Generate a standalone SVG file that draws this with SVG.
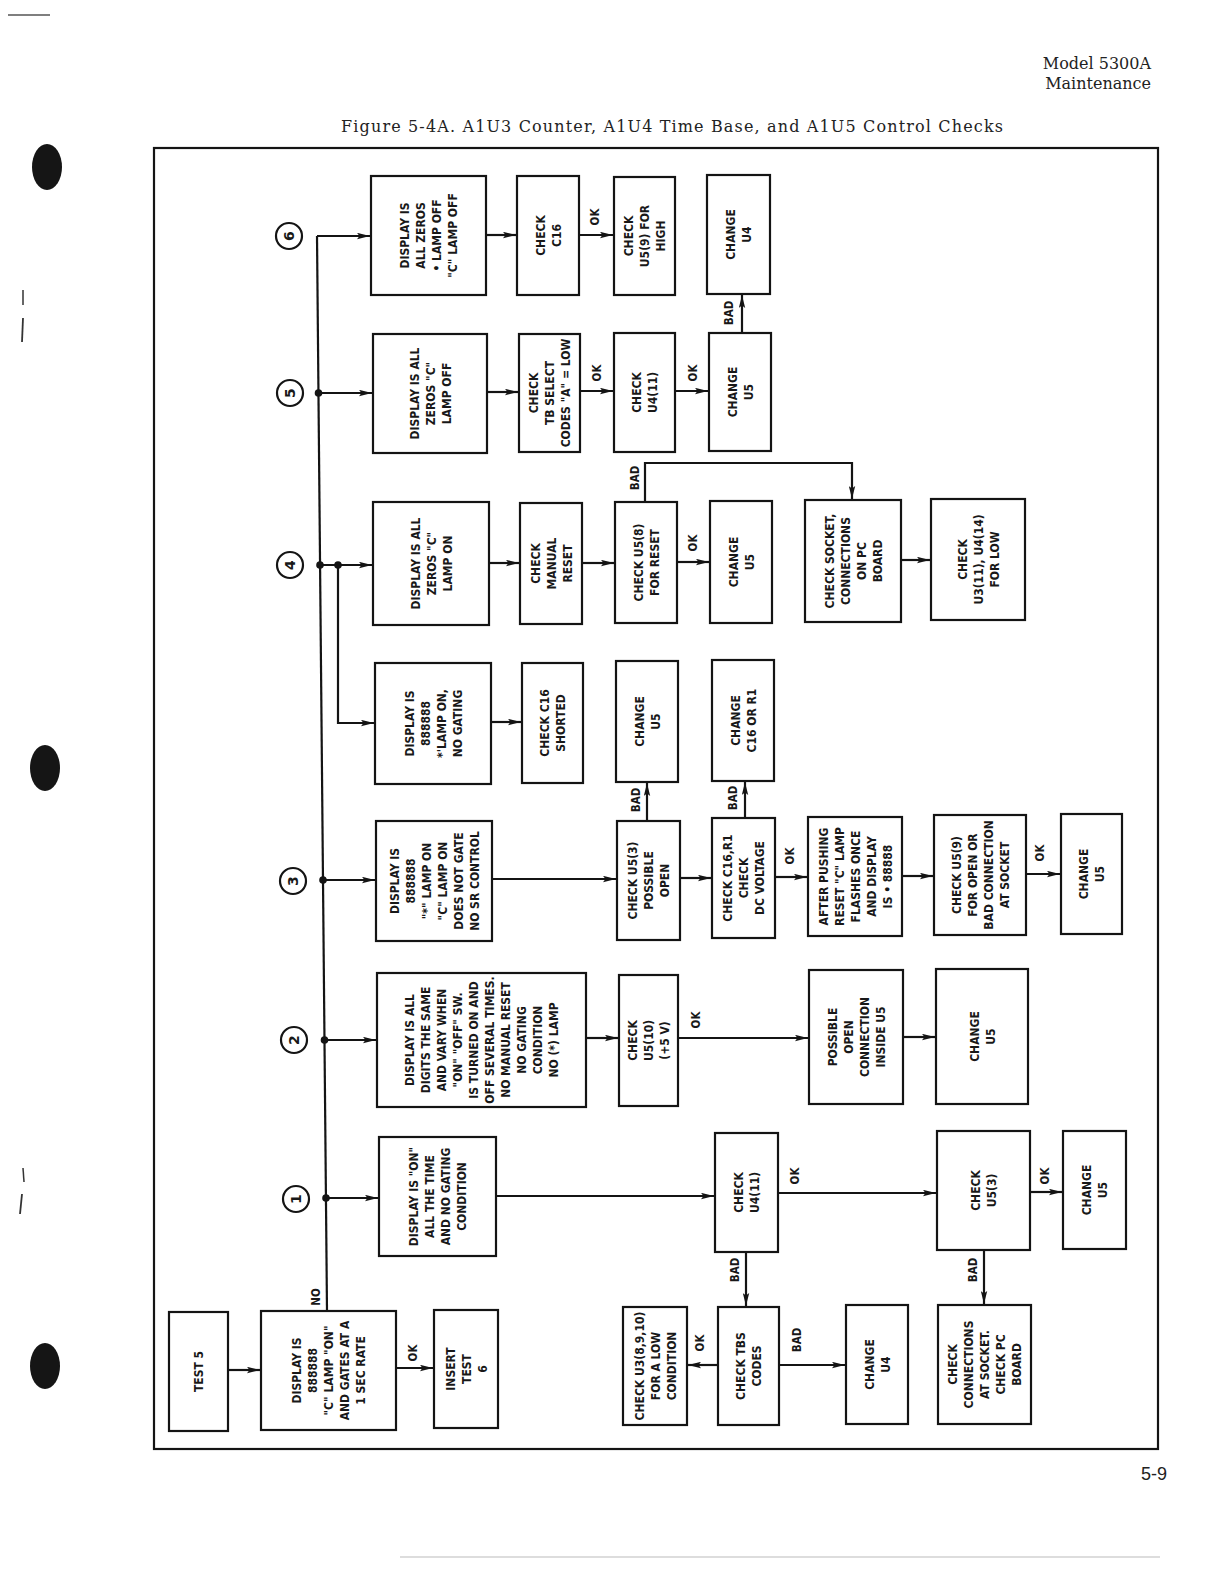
<svg xmlns="http://www.w3.org/2000/svg" width="1229" height="1584" viewBox="0 0 1229 1584">
<style>
.bx{fill:#fff;stroke:#141414;stroke-width:2.2}
.t{font-family:"Liberation Sans Narrow","DejaVu Sans Condensed","Liberation Sans",sans-serif;font-stretch:condensed;font-weight:bold;font-size:12px;text-anchor:middle;fill:#181818}
.l{font-family:"Liberation Sans Narrow","DejaVu Sans Condensed","Liberation Sans",sans-serif;font-stretch:condensed;font-weight:bold;font-size:11.5px;text-anchor:middle;fill:#181818}
.h{font-family:"DejaVu Serif","Liberation Serif",serif;font-size:16px;fill:#222}
.c{fill:#fff;stroke:#141414;stroke-width:2.2}
.cn{font-family:"DejaVu Sans","Liberation Sans",sans-serif;font-size:14px;font-weight:bold;text-anchor:middle;fill:#181818}
.w{fill:none;stroke:#141414;stroke-width:2.2}
.d{fill:#141414}
</style>
<defs>
<marker id="a" viewBox="0 0 13 7" refX="13" refY="3.5" markerWidth="13" markerHeight="7" markerUnits="userSpaceOnUse" orient="auto"><path d="M0,0.3 L13,3.5 L0,6.7 L2.5,3.5 z" fill="#141414"/></marker>
</defs>
<rect width="1229" height="1584" fill="#fff"/>
<g id="margin">
<line x1="8" y1="15" x2="50" y2="15" stroke="#555" stroke-width="1.5"/>
<ellipse cx="47" cy="167" rx="15" ry="23" fill="#151515"/>
<ellipse cx="45" cy="768" rx="15" ry="23" fill="#151515"/>
<ellipse cx="45" cy="1366" rx="15" ry="23" fill="#151515"/>
<line x1="23" y1="290" x2="23" y2="305" stroke="#333" stroke-width="1.5"/>
<line x1="23" y1="318" x2="22" y2="342" stroke="#333" stroke-width="1.8"/>
<line x1="23" y1="1168" x2="24" y2="1182" stroke="#333" stroke-width="1.5"/>
<line x1="22" y1="1194" x2="20" y2="1214" stroke="#333" stroke-width="1.8"/>
<line x1="400" y1="1557" x2="1160" y2="1557" stroke="#bbb" stroke-width="1"/>
</g>
<g id="header">
<text class="h" x="1151" y="69" text-anchor="end">Model 5300A</text>
<text class="h" x="1151" y="89" text-anchor="end">Maintenance</text>
<text class="h" x="341" y="132" font-size="16.5" textLength="662" lengthAdjust="spacing">Figure 5-4A.  A1U3 Counter, A1U4 Time Base, and A1U5 Control Checks</text>
<text x="1167" y="1480" text-anchor="end" font-family="Liberation Sans, sans-serif" font-size="18" fill="#222">5-9</text>
</g>
<rect x="154" y="148" width="1004" height="1301" fill="none" stroke="#141414" stroke-width="2.2"/>

<g id="connectors">
<path class="w" d="M317,236 H370" marker-end="url(#a)"/>
<path class="w" d="M317,236 L327,1311"/>
<path class="w" d="M318.5,393 H372" marker-end="url(#a)"/>
<path class="w" d="M320,565 H372" marker-end="url(#a)"/>
<path class="w" d="M338,565 V723 H374" marker-end="url(#a)"/>
<path class="w" d="M323,880 H375" marker-end="url(#a)"/>
<path class="w" d="M324.5,1040 H376" marker-end="url(#a)"/>
<path class="w" d="M326,1198 H378" marker-end="url(#a)"/>
<path class="w" d="M486,235 H516" marker-end="url(#a)"/>
<path class="w" d="M579,235 H613" marker-end="url(#a)"/>
<path class="w" d="M487,392 H518" marker-end="url(#a)"/>
<path class="w" d="M580,391 H613" marker-end="url(#a)"/>
<path class="w" d="M675,391 H708" marker-end="url(#a)"/>
<path class="w" d="M742,333 V295" marker-end="url(#a)"/>
<path class="w" d="M489,563 H519" marker-end="url(#a)"/>
<path class="w" d="M582,563 H614" marker-end="url(#a)"/>
<path class="w" d="M677,562 H709" marker-end="url(#a)"/>
<path class="w" d="M645,502 V463 H852 V499" marker-end="url(#a)"/>
<path class="w" d="M901,560 H930" marker-end="url(#a)"/>
<path class="w" d="M491,722 H521" marker-end="url(#a)"/>
<path class="w" d="M492,879 H616" marker-end="url(#a)"/>
<path class="w" d="M680,878 H711" marker-end="url(#a)"/>
<path class="w" d="M775,877 H807" marker-end="url(#a)"/>
<path class="w" d="M902,876 H933" marker-end="url(#a)"/>
<path class="w" d="M1026,874 H1060" marker-end="url(#a)"/>
<path class="w" d="M647,821 V783" marker-end="url(#a)"/>
<path class="w" d="M745,818 V782" marker-end="url(#a)"/>
<path class="w" d="M586,1038 H618" marker-end="url(#a)"/>
<path class="w" d="M678,1038 H808" marker-end="url(#a)"/>
<path class="w" d="M903,1037 H935" marker-end="url(#a)"/>
<path class="w" d="M496,1196 H714" marker-end="url(#a)"/>
<path class="w" d="M778,1193 H936" marker-end="url(#a)"/>
<path class="w" d="M1030,1192 H1062" marker-end="url(#a)"/>
<path class="w" d="M746,1252 V1306" marker-end="url(#a)"/>
<path class="w" d="M984,1250 V1304" marker-end="url(#a)"/>
<path class="w" d="M718,1365 H688" marker-end="url(#a)"/>
<path class="w" d="M779,1365 H845" marker-end="url(#a)"/>
<path class="w" d="M228,1370 H260" marker-end="url(#a)"/>
<path class="w" d="M396,1368 H433" marker-end="url(#a)"/>
<circle class="d" cx="318.5" cy="393" r="3.8"/>
<circle class="d" cx="320" cy="565" r="3.8"/>
<circle class="d" cx="338" cy="565" r="3.8"/>
<circle class="d" cx="323" cy="880" r="3.8"/>
<circle class="d" cx="324.5" cy="1040" r="3.8"/>
<circle class="d" cx="326" cy="1198" r="3.8"/>
<text class="l" transform="translate(595,217) rotate(-90)" y="4">OK</text>
<text class="l" transform="translate(597,373) rotate(-90)" y="4">OK</text>
<text class="l" transform="translate(693,373) rotate(-90)" y="4">OK</text>
<text class="l" transform="translate(729,313) rotate(-90)" y="4">BAD</text>
<text class="l" transform="translate(693,543) rotate(-90)" y="4">OK</text>
<text class="l" transform="translate(635,478) rotate(-90)" y="4">BAD</text>
<text class="l" transform="translate(790,856) rotate(-90)" y="4">OK</text>
<text class="l" transform="translate(1040,853) rotate(-90)" y="4">OK</text>
<text class="l" transform="translate(636,800) rotate(-90)" y="4">BAD</text>
<text class="l" transform="translate(733,798) rotate(-90)" y="4">BAD</text>
<text class="l" transform="translate(696,1020) rotate(-90)" y="4">OK</text>
<text class="l" transform="translate(795,1176) rotate(-90)" y="4">OK</text>
<text class="l" transform="translate(1045,1176) rotate(-90)" y="4">OK</text>
<text class="l" transform="translate(735,1270) rotate(-90)" y="4">BAD</text>
<text class="l" transform="translate(973,1270) rotate(-90)" y="4">BAD</text>
<text class="l" transform="translate(700,1343) rotate(-90)" y="4">OK</text>
<text class="l" transform="translate(797,1340) rotate(-90)" y="4">BAD</text>
<text class="l" transform="translate(413,1353) rotate(-90)" y="4">OK</text>
<text class="l" transform="translate(316,1297) rotate(-90)" y="4">NO</text>
</g>

<g id="m6"><circle class="c" cx="289" cy="236" r="13"/><text class="cn" transform="translate(289,236) rotate(-90)" y="5">6</text></g>
<g id="m5"><circle class="c" cx="290" cy="393" r="13"/><text class="cn" transform="translate(290,393) rotate(-90)" y="5">5</text></g>
<g id="m4"><circle class="c" cx="290" cy="565" r="13"/><text class="cn" transform="translate(290,565) rotate(-90)" y="5">4</text></g>
<g id="m3"><circle class="c" cx="293" cy="881" r="13"/><text class="cn" transform="translate(293,881) rotate(-90)" y="5">3</text></g>
<g id="m2"><circle class="c" cx="294" cy="1040" r="13"/><text class="cn" transform="translate(294,1040) rotate(-90)" y="5">2</text></g>
<g id="m1"><circle class="c" cx="296" cy="1199" r="13"/><text class="cn" transform="translate(296,1199) rotate(-90)" y="5">1</text></g>

<g id="n6"><rect class="bx" x="371" y="176" width="115" height="119"/><text class="t" transform="translate(428.5,235.5) rotate(-90)"><tspan x="0" y="-19.5">DISPLAY IS</tspan><tspan x="0" dy="16">ALL ZEROS</tspan><tspan x="0" dy="16">• LAMP OFF</tspan><tspan x="0" dy="16">"C" LAMP OFF</tspan></text></g>
<g id="c16"><rect class="bx" x="517" y="176" width="62" height="119"/><text class="t" transform="translate(548,235.5) rotate(-90)"><tspan x="0" y="-3.5">CHECK</tspan><tspan x="0" dy="16">C16</tspan></text></g>
<g id="u59h"><rect class="bx" x="614" y="177" width="61" height="118"/><text class="t" transform="translate(644.5,236) rotate(-90)"><tspan x="0" y="-11.5">CHECK</tspan><tspan x="0" dy="16">U5(9) FOR</tspan><tspan x="0" dy="16">HIGH</tspan></text></g>
<g id="chU4a"><rect class="bx" x="707" y="175" width="63" height="119"/><text class="t" transform="translate(738.5,234.5) rotate(-90)"><tspan x="0" y="-3.5">CHANGE</tspan><tspan x="0" dy="16">U4</tspan></text></g>

<g id="n5"><rect class="bx" x="373" y="334" width="114" height="119"/><text class="t" transform="translate(430,393.5) rotate(-90)"><tspan x="0" y="-11.5">DISPLAY IS ALL</tspan><tspan x="0" dy="16">ZEROS "C"</tspan><tspan x="0" dy="16">LAMP OFF</tspan></text></g>
<g id="tbs"><rect class="bx" x="519" y="334" width="61" height="118"/><text class="t" transform="translate(549.5,393) rotate(-90)"><tspan x="0" y="-11.5">CHECK</tspan><tspan x="0" dy="16">TB SELECT</tspan><tspan x="0" dy="16">CODES "A" = LOW</tspan></text></g>
<g id="u411a"><rect class="bx" x="614" y="333" width="61" height="119"/><text class="t" transform="translate(644.5,392.5) rotate(-90)"><tspan x="0" y="-3.5">CHECK</tspan><tspan x="0" dy="16">U4(11)</tspan></text></g>
<g id="chU5a"><rect class="bx" x="709" y="333" width="62" height="118"/><text class="t" transform="translate(740,392) rotate(-90)"><tspan x="0" y="-3.5">CHANGE</tspan><tspan x="0" dy="16">U5</tspan></text></g>

<g id="n4"><rect class="bx" x="373" y="502" width="116" height="123"/><text class="t" transform="translate(431,563.5) rotate(-90)"><tspan x="0" y="-11.5">DISPLAY IS ALL</tspan><tspan x="0" dy="16">ZEROS "C"</tspan><tspan x="0" dy="16">LAMP ON</tspan></text></g>
<g id="mr"><rect class="bx" x="520" y="503" width="62" height="121"/><text class="t" transform="translate(551,563.5) rotate(-90)"><tspan x="0" y="-11.5">CHECK</tspan><tspan x="0" dy="16">MANUAL</tspan><tspan x="0" dy="16">RESET</tspan></text></g>
<g id="u58"><rect class="bx" x="615" y="502" width="62" height="121"/><text class="t" transform="translate(646,562.5) rotate(-90)"><tspan x="0" y="-3.5">CHECK U5(8)</tspan><tspan x="0" dy="16">FOR RESET</tspan></text></g>
<g id="chU5b"><rect class="bx" x="710" y="501" width="62" height="122"/><text class="t" transform="translate(741,562) rotate(-90)"><tspan x="0" y="-3.5">CHANGE</tspan><tspan x="0" dy="16">U5</tspan></text></g>
<g id="sock"><rect class="bx" x="805" y="500" width="96" height="122"/><text class="t" transform="translate(853,561) rotate(-90)"><tspan x="0" y="-19.5">CHECK SOCKET,</tspan><tspan x="0" dy="16">CONNECTIONS</tspan><tspan x="0" dy="16">ON PC</tspan><tspan x="0" dy="16">BOARD</tspan></text></g>
<g id="u311"><rect class="bx" x="931" y="499" width="94" height="121"/><text class="t" transform="translate(978,559.5) rotate(-90)"><tspan x="0" y="-11.5">CHECK</tspan><tspan x="0" dy="16">U3(11), U4(14)</tspan><tspan x="0" dy="16">FOR LOW</tspan></text></g>

<g id="n4b"><rect class="bx" x="375" y="663" width="116" height="121"/><text class="t" transform="translate(433,723.5) rotate(-90)"><tspan x="0" y="-19.5">DISPLAY IS</tspan><tspan x="0" dy="16">888888</tspan><tspan x="0" dy="16">*'LAMP ON,</tspan><tspan x="0" dy="16">NO GATING</tspan></text></g>
<g id="c16s"><rect class="bx" x="522" y="663" width="61" height="120"/><text class="t" transform="translate(552.5,723) rotate(-90)"><tspan x="0" y="-3.5">CHECK C16</tspan><tspan x="0" dy="16">SHORTED</tspan></text></g>
<g id="chU5c"><rect class="bx" x="616" y="661" width="62" height="121"/><text class="t" transform="translate(647,721.5) rotate(-90)"><tspan x="0" y="-3.5">CHANGE</tspan><tspan x="0" dy="16">U5</tspan></text></g>
<g id="chC16"><rect class="bx" x="712" y="660" width="62" height="121"/><text class="t" transform="translate(743,720.5) rotate(-90)"><tspan x="0" y="-3.5">CHANGE</tspan><tspan x="0" dy="16">C16 OR R1</tspan></text></g>

<g id="n3"><rect class="bx" x="376" y="821" width="116" height="120"/><text class="t" transform="translate(434,881) rotate(-90)"><tspan x="0" y="-35.5">DISPLAY IS</tspan><tspan x="0" dy="16">888888</tspan><tspan x="0" dy="16">"*" LAMP ON</tspan><tspan x="0" dy="16">"C" LAMP ON</tspan><tspan x="0" dy="16">DOES NOT GATE</tspan><tspan x="0" dy="16">NO SR CONTROL</tspan></text></g>
<g id="u53a"><rect class="bx" x="617" y="821" width="63" height="119"/><text class="t" transform="translate(648.5,880.5) rotate(-90)"><tspan x="0" y="-11.5">CHECK U5(3)</tspan><tspan x="0" dy="16">POSSIBLE</tspan><tspan x="0" dy="16">OPEN</tspan></text></g>
<g id="c16r1"><rect class="bx" x="712" y="818" width="63" height="120"/><text class="t" transform="translate(743.5,878) rotate(-90)"><tspan x="0" y="-11.5">CHECK C16,R1</tspan><tspan x="0" dy="16">CHECK</tspan><tspan x="0" dy="16">DC VOLTAGE</tspan></text></g>
<g id="after"><rect class="bx" x="808" y="817" width="94" height="119"/><text class="t" transform="translate(855,876.5) rotate(-90)"><tspan x="0" y="-27.5">AFTER PUSHING</tspan><tspan x="0" dy="16">RESET "C" LAMP</tspan><tspan x="0" dy="16">FLASHES ONCE</tspan><tspan x="0" dy="16">AND DISPLAY</tspan><tspan x="0" dy="16">IS • 88888</tspan></text></g>
<g id="u59o"><rect class="bx" x="934" y="815" width="92" height="120"/><text class="t" transform="translate(980,875) rotate(-90)"><tspan x="0" y="-19.5">CHECK U5(9)</tspan><tspan x="0" dy="16">FOR OPEN OR</tspan><tspan x="0" dy="16">BAD CONNECTION</tspan><tspan x="0" dy="16">AT SOCKET</tspan></text></g>
<g id="chU5d"><rect class="bx" x="1061" y="814" width="61" height="120"/><text class="t" transform="translate(1091.5,874) rotate(-90)"><tspan x="0" y="-3.5">CHANGE</tspan><tspan x="0" dy="16">U5</tspan></text></g>

<g id="n2"><rect class="bx" x="377" y="973" width="209" height="134"/><text class="t" transform="translate(481.5,1040) rotate(-90)"><tspan x="0" y="-67.5">DISPLAY IS ALL</tspan><tspan x="0" dy="16">DIGITS THE SAME</tspan><tspan x="0" dy="16">AND VARY WHEN</tspan><tspan x="0" dy="16">"ON" "OFF" SW.</tspan><tspan x="0" dy="16">IS TURNED ON AND</tspan><tspan x="0" dy="16">OFF SEVERAL TIMES.</tspan><tspan x="0" dy="16">NO MANUAL RESET</tspan><tspan x="0" dy="16">NO GATING</tspan><tspan x="0" dy="16">CONDITION</tspan><tspan x="0" dy="16">NO (*) LAMP</tspan></text></g>
<g id="u510"><rect class="bx" x="619" y="975" width="59" height="131"/><text class="t" transform="translate(648.5,1040.5) rotate(-90)"><tspan x="0" y="-11.5">CHECK</tspan><tspan x="0" dy="16">U5(10)</tspan><tspan x="0" dy="16">(+5 V)</tspan></text></g>
<g id="poss"><rect class="bx" x="809" y="970" width="94" height="134"/><text class="t" transform="translate(856,1037) rotate(-90)"><tspan x="0" y="-19.5">POSSIBLE</tspan><tspan x="0" dy="16">OPEN</tspan><tspan x="0" dy="16">CONNECTION</tspan><tspan x="0" dy="16">INSIDE U5</tspan></text></g>
<g id="chU5e"><rect class="bx" x="936" y="969" width="92" height="135"/><text class="t" transform="translate(982,1036.5) rotate(-90)"><tspan x="0" y="-3.5">CHANGE</tspan><tspan x="0" dy="16">U5</tspan></text></g>

<g id="n1"><rect class="bx" x="379" y="1137" width="117" height="119"/><text class="t" transform="translate(437.5,1196.5) rotate(-90)"><tspan x="0" y="-19.5">DISPLAY IS "ON"</tspan><tspan x="0" dy="16">ALL THE TIME</tspan><tspan x="0" dy="16">AND NO GATING</tspan><tspan x="0" dy="16">CONDITION</tspan></text></g>
<g id="u411b"><rect class="bx" x="715" y="1133" width="63" height="119"/><text class="t" transform="translate(746.5,1192.5) rotate(-90)"><tspan x="0" y="-3.5">CHECK</tspan><tspan x="0" dy="16">U4(11)</tspan></text></g>
<g id="u53b"><rect class="bx" x="937" y="1131" width="93" height="119"/><text class="t" transform="translate(983.5,1190.5) rotate(-90)"><tspan x="0" y="-3.5">CHECK</tspan><tspan x="0" dy="16">U5(3)</tspan></text></g>
<g id="chU5f"><rect class="bx" x="1063" y="1131" width="63" height="118"/><text class="t" transform="translate(1094.5,1190) rotate(-90)"><tspan x="0" y="-3.5">CHANGE</tspan><tspan x="0" dy="16">U5</tspan></text></g>

<g id="test5"><rect class="bx" x="169" y="1312" width="59" height="119"/><text class="t" transform="translate(198.5,1371.5) rotate(-90)"><tspan x="0" y="4.5">TEST 5</tspan></text></g>
<g id="main"><rect class="bx" x="261" y="1311" width="135" height="119"/><text class="t" transform="translate(328.5,1370.5) rotate(-90)"><tspan x="0" y="-27.5">DISPLAY IS</tspan><tspan x="0" dy="16">888888</tspan><tspan x="0" dy="16">"C" LAMP "ON"</tspan><tspan x="0" dy="16">AND GATES AT A</tspan><tspan x="0" dy="16">1 SEC RATE</tspan></text></g>
<g id="ins"><rect class="bx" x="434" y="1310" width="64" height="118"/><text class="t" transform="translate(466,1369) rotate(-90)"><tspan x="0" y="-11.5">INSERT</tspan><tspan x="0" dy="16">TEST</tspan><tspan x="0" dy="16">6</tspan></text></g>
<g id="u3891"><rect class="bx" x="623" y="1307" width="64" height="118"/><text class="t" transform="translate(655,1366) rotate(-90)"><tspan x="0" y="-11.5">CHECK U3(8,9,10)</tspan><tspan x="0" dy="16">FOR A LOW</tspan><tspan x="0" dy="16">CONDITION</tspan></text></g>
<g id="tbsc"><rect class="bx" x="718" y="1307" width="61" height="118"/><text class="t" transform="translate(748.5,1366) rotate(-90)"><tspan x="0" y="-3.5">CHECK TBS</tspan><tspan x="0" dy="16">CODES</tspan></text></g>
<g id="chU4b"><rect class="bx" x="846" y="1305" width="62" height="119"/><text class="t" transform="translate(877,1364.5) rotate(-90)"><tspan x="0" y="-3.5">CHANGE</tspan><tspan x="0" dy="16">U4</tspan></text></g>
<g id="conn"><rect class="bx" x="938" y="1305" width="93" height="119"/><text class="t" transform="translate(984.5,1364.5) rotate(-90)"><tspan x="0" y="-27.5">CHECK</tspan><tspan x="0" dy="16">CONNECTIONS</tspan><tspan x="0" dy="16">AT SOCKET.</tspan><tspan x="0" dy="16">CHECK PC</tspan><tspan x="0" dy="16">BOARD</tspan></text></g>
</svg>
